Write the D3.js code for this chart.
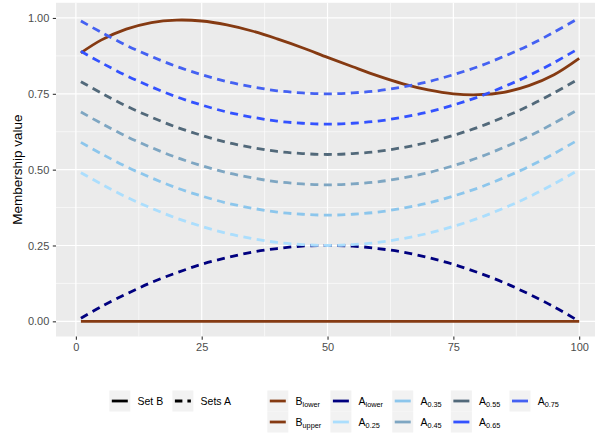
<!DOCTYPE html>
<html>
<head>
<meta charset="utf-8">
<script src="https://cdn.jsdelivr.net/npm/d3@7"></script>
<style>
  html, body { margin: 0; padding: 0; background: #ffffff; }
  svg { display: block; font-family: "Liberation Sans", Arial, Helvetica, sans-serif; }
</style>
</head>
<body>
<svg id="chart" width="595" height="435"></svg>
<script>
// ---------------- data ----------------
const xValues = [1, 5, 10, 15, 20, 25, 30, 35, 40, 45, 50, 55, 60, 65, 70, 75, 80, 85, 90, 95, 100];

const bLower = [0, 0, 0, 0, 0, 0, 0, 0, 0, 0, 0, 0, 0, 0, 0, 0, 0, 0, 0, 0, 0];
const bUpper = [0.885, 0.927, 0.963, 0.985, 0.993, 0.990, 0.977, 0.957, 0.931, 0.902, 0.870,
                0.839, 0.809, 0.783, 0.763, 0.750, 0.747, 0.755, 0.777, 0.813, 0.867];

const aLower = [0.010, 0.048, 0.090, 0.128, 0.160, 0.188, 0.210, 0.228, 0.240, 0.248, 0.250,
                0.248, 0.240, 0.228, 0.210, 0.188, 0.160, 0.128, 0.090, 0.048, 0.000];
const a025 = [0.490, 0.453, 0.410, 0.373, 0.340, 0.313, 0.290, 0.273, 0.260, 0.253, 0.250,
              0.253, 0.260, 0.273, 0.290, 0.313, 0.340, 0.373, 0.410, 0.453, 0.500];
const a035 = [0.590, 0.553, 0.510, 0.473, 0.440, 0.413, 0.390, 0.373, 0.360, 0.353, 0.350,
              0.353, 0.360, 0.373, 0.390, 0.413, 0.440, 0.473, 0.510, 0.553, 0.600];
const a045 = [0.690, 0.653, 0.610, 0.573, 0.540, 0.513, 0.490, 0.473, 0.460, 0.453, 0.450,
              0.453, 0.460, 0.473, 0.490, 0.513, 0.540, 0.573, 0.610, 0.653, 0.700];
const a055 = [0.790, 0.753, 0.710, 0.673, 0.640, 0.613, 0.590, 0.573, 0.560, 0.553, 0.550,
              0.553, 0.560, 0.573, 0.590, 0.613, 0.640, 0.673, 0.710, 0.753, 0.800];
const a065 = [0.890, 0.853, 0.810, 0.773, 0.740, 0.713, 0.690, 0.673, 0.660, 0.653, 0.650,
              0.653, 0.660, 0.673, 0.690, 0.713, 0.740, 0.773, 0.810, 0.853, 0.900];
const a075 = [0.990, 0.953, 0.910, 0.873, 0.840, 0.813, 0.790, 0.773, 0.760, 0.753, 0.750,
              0.753, 0.760, 0.773, 0.790, 0.813, 0.840, 0.873, 0.910, 0.953, 1.000];

const xTicks = [0, 25, 50, 75, 100];
const xMinor = [12.5, 37.5, 62.5, 87.5];
const yTicks = [0, 0.25, 0.5, 0.75, 1];
const yMinor = [0.125, 0.375, 0.625, 0.875];

const yTitle = "Membership value";
const typeLabels = ["Set B", "Sets A"];

// series: [base, subscript, values, colour, dashed]
const series = [
  {base: "B", sub: "lower", values: bLower, color: "#853a12", dashed: false},
  {base: "B", sub: "upper", values: bUpper, color: "#853a12", dashed: false},
  {base: "A", sub: "lower", values: aLower, color: "#00007f", dashed: true},
  {base: "A", sub: "0.25", values: a025, color: "#abdefd", dashed: true},
  {base: "A", sub: "0.35", values: a035, color: "#8cc6ec", dashed: true},
  {base: "A", sub: "0.45", values: a045, color: "#7ea6c2", dashed: true},
  {base: "A", sub: "0.55", values: a055, color: "#52697a", dashed: true},
  {base: "A", sub: "0.65", values: a065, color: "#3352ff", dashed: true},
  {base: "A", sub: "0.75", values: a075, color: "#4461f2", dashed: true}
];

// ---------------- layout ----------------
const svg = d3.select("#chart");
const panel = {left: 56, right: 604.1, top: 2.8, bottom: 336.5};

const x = d3.scaleLinear().domain([-3.95, 104.95]).range([panel.left, panel.right]);
const y = d3.scaleLinear().domain([-0.05, 1.05]).range([panel.bottom, panel.top]);

svg.append("rect").attr("x", 0).attr("y", 0).attr("width", 595).attr("height", 435).attr("fill", "#ffffff");

svg.append("rect")
  .attr("x", panel.left).attr("y", panel.top)
  .attr("width", panel.right - panel.left).attr("height", panel.bottom - panel.top)
  .attr("fill", "#ebebeb");

const grid = svg.append("g");
grid.selectAll(".ymin").data(yMinor).join("line")
  .attr("x1", panel.left).attr("x2", panel.right)
  .attr("y1", d => y(d)).attr("y2", d => y(d))
  .attr("stroke", "#ffffff").attr("stroke-width", 0.6);
grid.selectAll(".xmin").data(xMinor).join("line")
  .attr("y1", panel.top).attr("y2", panel.bottom)
  .attr("x1", d => x(d)).attr("x2", d => x(d))
  .attr("stroke", "#ffffff").attr("stroke-width", 0.6);
grid.selectAll(".ymaj").data(yTicks).join("line")
  .attr("x1", panel.left).attr("x2", panel.right)
  .attr("y1", d => y(d)).attr("y2", d => y(d))
  .attr("stroke", "#ffffff").attr("stroke-width", 1.2);
grid.selectAll(".xmaj").data(xTicks).join("line")
  .attr("y1", panel.top).attr("y2", panel.bottom)
  .attr("x1", d => x(d)).attr("x2", d => x(d))
  .attr("stroke", "#ffffff").attr("stroke-width", 1.2);

// ---------------- lines ----------------
const line = d3.line()
  .x((d, i) => x(xValues[i]))
  .y(d => y(d))
  .curve(d3.curveCatmullRom.alpha(0.5));

const lines = svg.append("g");
series.forEach(s => {
  lines.append("path")
    .attr("d", line(s.values))
    .attr("fill", "none")
    .attr("stroke", s.color)
    .attr("stroke-width", 2.8)
    .attr("stroke-dasharray", s.dashed ? "8,5.5" : null);
});

// ---------------- axes ----------------
const yAxis = svg.append("g")
  .attr("transform", `translate(${panel.left},0)`)
  .call(d3.axisLeft(y).tickValues(yTicks).tickFormat(d3.format(".2f")).tickSize(3.2).tickPadding(3.5));
const xAxis = svg.append("g")
  .attr("transform", `translate(0,${panel.bottom})`)
  .call(d3.axisBottom(x).tickValues(xTicks).tickFormat(d3.format("d")).tickSize(3.2).tickPadding(3));

[xAxis, yAxis].forEach(g => {
  g.select(".domain").remove();
  g.selectAll(".tick line").attr("stroke", "#333333").attr("stroke-width", 1.1);
  g.selectAll(".tick text").attr("fill", "#4d4d4d").style("font-size", "11px")
    .style("font-family", '"Liberation Sans", Arial, Helvetica, sans-serif');
});

svg.append("text")
  .attr("transform", `translate(17.5,${(panel.top + panel.bottom) / 2}) rotate(-90)`)
  .attr("text-anchor", "middle")
  .attr("dominant-baseline", "central")
  .attr("fill", "#000000")
  .style("font-size", "13.5px")
  .text(yTitle);

// ---------------- legends ----------------
const keyW = 21, keyH = 21, keyGap = 7.2, colSpace = 9.2;
const legendFont = 10.5, subFont = 7.3;

// legend 1: line type
const leg1 = svg.append("g");
let lx = 109.3;
const row1Top = 390.5;
typeLabels.forEach((lab, i) => {
  leg1.append("rect").attr("x", lx).attr("y", row1Top).attr("width", keyW).attr("height", keyH).attr("fill", "#f2f2f2");
  leg1.append("line")
    .attr("x1", lx + 2.5).attr("x2", lx + keyW - 2.5)
    .attr("y1", row1Top + keyH / 2).attr("y2", row1Top + keyH / 2)
    .attr("stroke", "#000000").attr("stroke-width", 2.8)
    .attr("stroke-dasharray", i === 1 ? "7.5,5" : null);
  const t = leg1.append("text")
    .attr("x", lx + keyW + keyGap).attr("y", row1Top + keyH / 2)
    .attr("dominant-baseline", "central")
    .style("font-size", legendFont + "px").attr("fill", "#000000")
    .text(lab);
  lx += keyW + keyGap + t.node().getComputedTextLength() + colSpace;
});

// legend 2: series (2 rows, filled by column)
const leg2 = svg.append("g");
const nrow = 2;
let cx = 267.3;
const ncol = Math.ceil(series.length / nrow);
for (let c = 0; c < ncol; c++) {
  let maxW = 0;
  for (let r = 0; r < nrow; r++) {
    const idx = c * nrow + r;
    if (idx >= series.length) break;
    const s = series[idx];
    const top = row1Top + r * keyH;
    leg2.append("rect").attr("x", cx).attr("y", top).attr("width", keyW).attr("height", keyH).attr("fill", "#f2f2f2");
    leg2.append("line")
      .attr("x1", cx + 2.5).attr("x2", cx + keyW - 2.5)
      .attr("y1", top + keyH / 2).attr("y2", top + keyH / 2)
      .attr("stroke", s.color).attr("stroke-width", 2.8);
    const t = leg2.append("text")
      .attr("x", cx + keyW + keyGap).attr("y", top + keyH / 2 + 3.5)
      .style("font-size", legendFont + "px").attr("fill", "#000000");
    t.append("tspan").text(s.base);
    t.append("tspan").attr("dy", 2.8).style("font-size", subFont + "px").text(s.sub);
    maxW = Math.max(maxW, t.node().getComputedTextLength());
  }
  cx += keyW + keyGap + maxW + colSpace;
}
</script>
</body>
</html>
